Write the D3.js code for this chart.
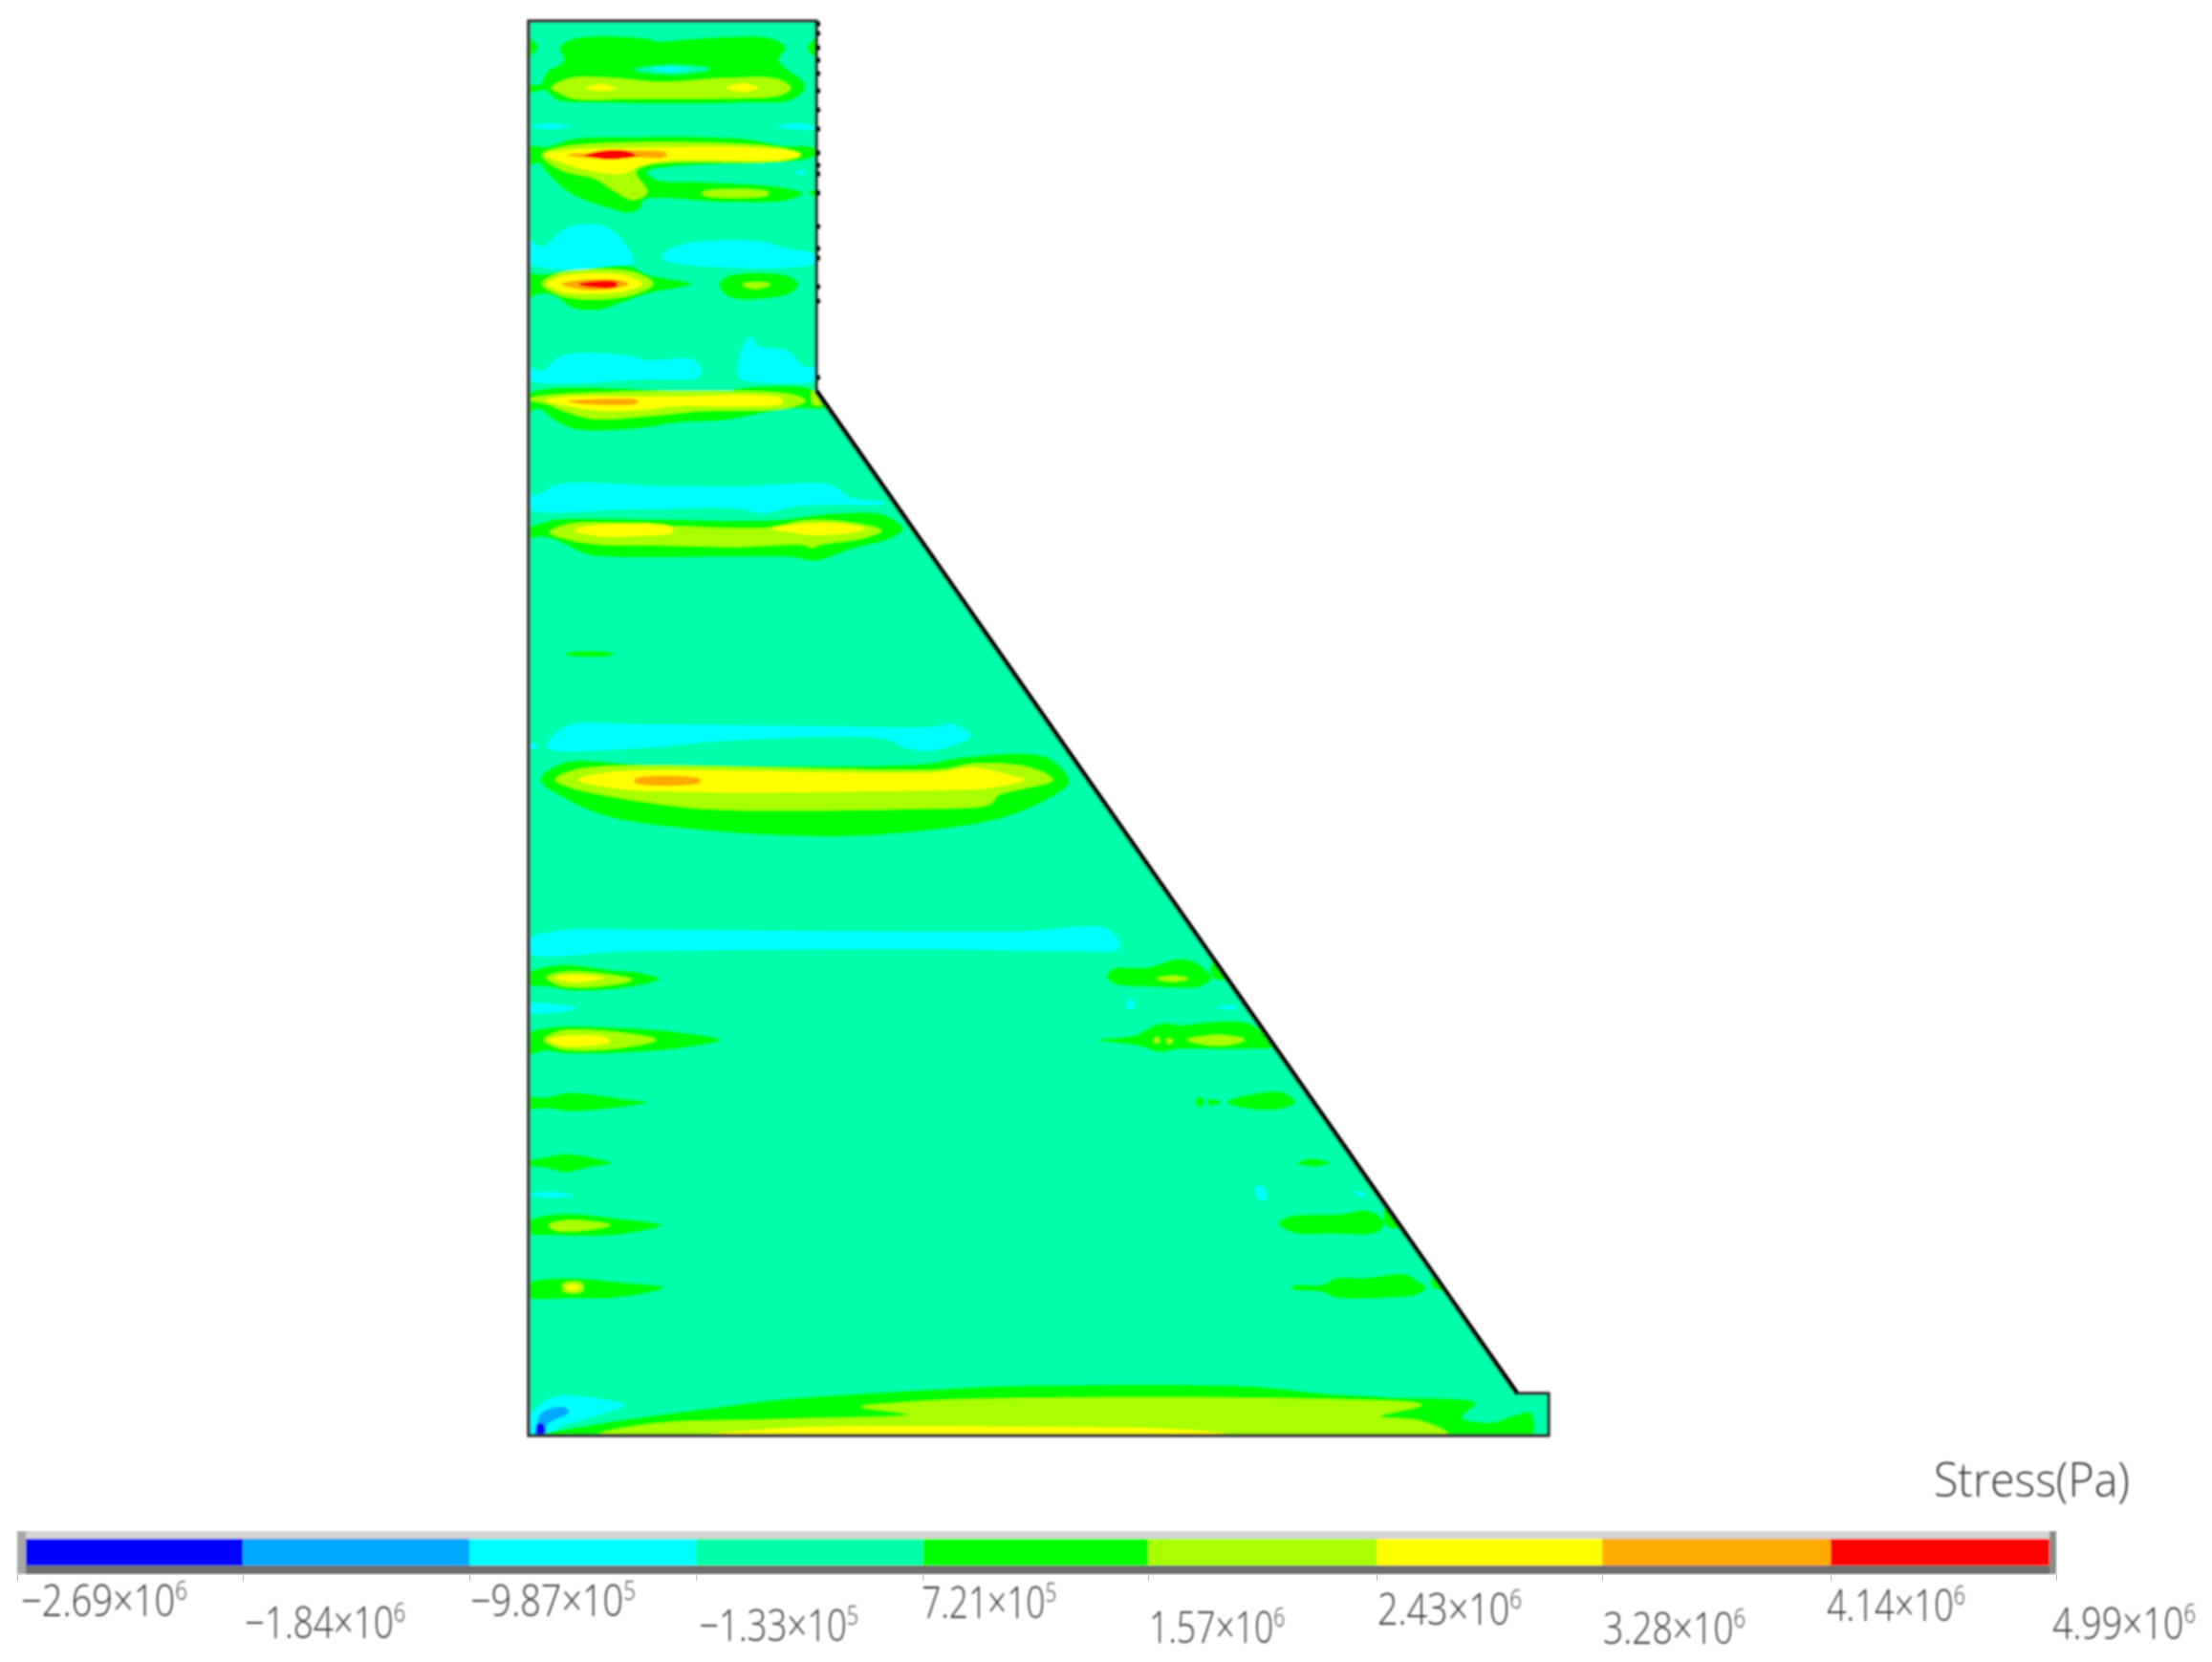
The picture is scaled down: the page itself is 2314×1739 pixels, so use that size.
<!DOCTYPE html>
<html>
<head>
<meta charset="utf-8">
<style>
  html, body { margin: 0; padding: 0; background: #fff; }
  svg { display: block; }
  text { font-family: "Open Sans", "Noto Sans", sans-serif; font-weight: 300; fill: #3c3c3c; }
</style>
<script src="https://cdnjs.cloudflare.com/ajax/libs/d3/7.8.5/d3.min.js"></script>
</head>
<body>
<svg id="chart"></svg>
<script>
// legend
const legendMantissa = ['\u22122.69', '\u22121.84', '\u22129.87', '\u22121.33', '7.21', '1.57', '2.43', '3.28', '4.14', '4.99']
const legendExponent = [6, 6, 5, 5, 5, 6, 6, 6, 6, 6]
const bandColors = ['#0000ff', '#00aaff', '#00ffff', '#00ffaa', '#00ff00', '#aaff00', '#ffff00', '#ffaa00', '#ff0000']
const legendTitle = 'Stress(Pa)'

// dam section, [distance from upstream face, depth below crest]
const damOutline = [[0, 0], [301, 0], [301, 387], [1034, 1436], [1067, 1436], [1067, 1480], [0, 1480]]
const damSlope = [[301, 387], [1034, 1436]]
// restraint marks on the upper downstream wall, depth below crest
const wallMarks = [3, 13, 28, 41, 55, 73, 93, 113, 138, 151, 160, 180, 215, 238, 248, 278, 293, 373]

// contour regions, one list per stress band (band 3 is the dam fill)
const band0 = [
  [[9, 1468], [15, 1468], [16, 1480], [9, 1480]]
]
const band1 = [
  [[9, 1466], [12, 1458], [25, 1451], [39, 1451], [42, 1456], [29, 1463], [20, 1468], [17, 1480], [7, 1480]]
]
const band2 = [
  [[2, 111], [24, 107], [42, 111], [24, 113]],
  [[260, 111], [277, 107], [299, 111], [299, 113], [277, 113]],
  [[279, 159], [284, 156], [290, 159], [284, 161]],
  [[0, 230], [14, 236], [37, 218], [54, 213], [80, 215], [94, 225], [109, 246], [109, 253], [0, 253]],
  [[139, 245], [154, 236], [177, 231], [244, 231], [270, 238], [301, 245], [301, 253], [144, 251]],
  [[0, 363], [14, 366], [35, 350], [104, 350], [124, 355], [174, 355], [180, 371], [120, 375], [0, 375]],
  [[219, 371], [222, 345], [232, 330], [240, 340], [270, 345], [287, 361], [301, 363], [301, 375], [222, 375]],
  [[0, 496], [10, 496], [30, 485], [107, 485], [120, 486], [227, 487], [260, 485], [314, 485], [340, 500], [372, 503], [372, 505], [320, 506], [277, 508], [244, 515], [217, 510], [104, 511], [0, 510]],
  [[19, 760], [40, 738], [120, 736], [300, 738], [430, 738], [440, 735], [463, 748], [424, 763], [396, 761], [372, 751], [206, 753], [127, 760]],
  [[1, 757], [8, 757], [8, 761], [1, 761]],
  [[0, 961], [39, 951], [125, 951], [504, 953], [607, 951], [618, 970], [561, 973], [423, 971], [113, 973], [0, 975]],
  [[0, 1029], [30, 1029], [50, 1033], [30, 1037], [0, 1037]],
  [[626, 1025], [633, 1025], [633, 1033], [626, 1033]],
  [[719, 1032], [739, 1030], [739, 1034]],
  [[0, 1228], [21, 1225], [47, 1229], [21, 1231]],
  [[760, 1220], [769, 1220], [772, 1233], [764, 1233]],
  [[864, 1225], [872, 1225], [875, 1230], [869, 1230]],
  [[0, 1461], [25, 1440], [62, 1440], [100, 1448], [59, 1463], [35, 1470], [19, 1480], [0, 1480]]
]
const band4 = [
  [[0, 18], [10, 27], [0, 38]],
  [[301, 18], [291, 28], [301, 38]],
  [[32, 28], [47, 18], [124, 18], [134, 21], [177, 18], [254, 18], [269, 28], [262, 41], [287, 63], [289, 71], [275, 83], [224, 86], [77, 86], [30, 83], [17, 73], [0, 75], [0, 67], [12, 66], [19, 53], [37, 41]],
  [[0, 132], [20, 131], [47, 123], [110, 121], [227, 123], [264, 130], [299, 133], [299, 141], [284, 146], [147, 153], [124, 158], [134, 166], [177, 168], [260, 173], [287, 180], [270, 188], [210, 190], [120, 188], [117, 196], [104, 201], [84, 196], [44, 181], [20, 160], [10, 149], [0, 151]],
  [[292, 180], [301, 176], [301, 183]],
  [[0, 264], [10, 265], [47, 261], [105, 256], [124, 265], [170, 275], [127, 285], [94, 296], [77, 302], [47, 301], [27, 288], [10, 286], [0, 290]],
  [[199, 275], [210, 266], [270, 266], [282, 275], [274, 285], [217, 291], [204, 285]],
  [[0, 390], [207, 388], [220, 384], [294, 384], [302, 391], [312, 404], [270, 406], [204, 418], [160, 420], [110, 427], [47, 427], [27, 418], [10, 406], [0, 410]],
  [[0, 531], [20, 523], [30, 521], [130, 521], [254, 522], [320, 515], [370, 516], [392, 531], [380, 541], [337, 553], [300, 565], [274, 561], [200, 561], [87, 561], [60, 558], [27, 543], [12, 540], [0, 541]],
  [[37, 663], [44, 660], [84, 660], [89, 663], [84, 665], [44, 665]],
  [[12, 794], [36, 776], [123, 778], [412, 777], [455, 770], [542, 770], [566, 795], [558, 805], [499, 833], [376, 851], [281, 853], [163, 845], [84, 833], [40, 815]],
  [[0, 996], [27, 988], [50, 988], [90, 993], [113, 995], [137, 1002], [113, 1010], [50, 1015], [21, 1011], [0, 1008]],
  [[604, 1000], [612, 991], [647, 990], [680, 981], [700, 986], [714, 1001], [704, 1010], [654, 1011], [614, 1008]],
  [[714, 986], [720, 986], [730, 1003], [715, 1001]],
  [[0, 1060], [21, 1053], [96, 1053], [159, 1058], [201, 1066], [159, 1075], [44, 1081], [16, 1078], [0, 1081]],
  [[595, 1066], [634, 1061], [654, 1051], [667, 1048], [680, 1050], [730, 1046], [757, 1050], [777, 1073], [750, 1076], [680, 1076], [660, 1079], [640, 1073]],
  [[0, 1126], [16, 1126], [44, 1121], [67, 1123], [102, 1128], [125, 1131], [102, 1136], [44, 1141], [19, 1138], [0, 1138]],
  [[697, 1131], [702, 1125], [707, 1131], [702, 1137]],
  [[710, 1128], [725, 1131], [712, 1135]],
  [[730, 1131], [754, 1123], [790, 1121], [802, 1131], [790, 1138], [750, 1138]],
  [[0, 1193], [21, 1188], [39, 1185], [62, 1188], [87, 1195], [62, 1200], [39, 1205], [16, 1200], [0, 1198]],
  [[803, 1195], [820, 1190], [839, 1195], [820, 1199]],
  [[0, 1256], [33, 1248], [96, 1253], [139, 1260], [96, 1270], [33, 1271], [0, 1268]],
  [[784, 1258], [794, 1251], [850, 1248], [874, 1244], [887, 1248], [895, 1258], [887, 1268], [834, 1269], [814, 1270], [794, 1266]],
  [[895, 1243], [912, 1263], [897, 1261]],
  [[0, 1321], [39, 1315], [102, 1320], [142, 1325], [102, 1335], [39, 1337], [0, 1335]],
  [[799, 1323], [830, 1322], [844, 1315], [874, 1315], [917, 1311], [930, 1318], [939, 1325], [929, 1333], [900, 1336], [844, 1336], [830, 1330], [799, 1327]],
  [[944, 1315], [957, 1328], [945, 1325]],
  [[13, 1480], [70, 1468], [191, 1451], [263, 1442], [348, 1436], [434, 1431], [498, 1428], [748, 1428], [834, 1436], [906, 1440], [991, 1446], [977, 1461], [1006, 1466], [1048, 1456], [1052, 1476], [1050, 1480]]
]
const band5 = [
  [[24, 70], [44, 60], [90, 60], [140, 64], [204, 60], [260, 61], [274, 70], [264, 77], [184, 81], [110, 81], [47, 81], [34, 76]],
  [[14, 140], [40, 131], [260, 132], [285, 140], [270, 146], [147, 148], [124, 151], [112, 158], [124, 179], [109, 187], [90, 178], [70, 165], [34, 156]],
  [[182, 179], [250, 179], [250, 182], [182, 182]],
  [[14, 275], [34, 263], [110, 263], [130, 275], [110, 286], [77, 291], [47, 290], [30, 286]],
  [[224, 275], [250, 274], [252, 276], [237, 280], [225, 277]],
  [[0, 396], [17, 392], [270, 390], [289, 397], [270, 405], [180, 408], [127, 413], [67, 416], [37, 408], [20, 401]],
  [[297, 386], [307, 401], [297, 401]],
  [[22, 535], [44, 526], [154, 529], [254, 530], [287, 523], [330, 524], [369, 533], [350, 541], [304, 548], [297, 551], [287, 548], [220, 550], [114, 548], [80, 548], [44, 543]],
  [[28, 794], [52, 783], [432, 783], [467, 777], [523, 781], [548, 794], [491, 810], [483, 819], [404, 824], [202, 825], [151, 821], [48, 803]],
  [[19, 1001], [36, 995], [85, 998], [108, 1003], [73, 1010], [33, 1009]],
  [[657, 1002], [674, 999], [690, 1002], [674, 1005]],
  [[16, 1066], [33, 1057], [79, 1057], [133, 1066], [90, 1075], [33, 1075]],
  [[689, 1066], [724, 1061], [749, 1066], [734, 1071], [707, 1071]],
  [[654, 1066], [658, 1063], [660, 1068], [655, 1069]],
  [[667, 1065], [674, 1066], [670, 1071]],
  [[21, 1260], [39, 1255], [85, 1260], [50, 1266], [27, 1265]],
  [[36, 1321], [56, 1321], [56, 1329], [36, 1329]],
  [[70, 1480], [127, 1468], [263, 1463], [398, 1458], [348, 1450], [384, 1446], [463, 1442], [834, 1442], [934, 1448], [891, 1460], [934, 1465], [963, 1480]]
]
const band6 = [
  [[60, 70], [75, 66], [92, 71], [75, 73]],
  [[207, 70], [224, 65], [240, 70], [224, 74]],
  [[17, 140], [40, 135], [94, 133], [260, 134], [284, 140], [264, 145], [147, 146], [117, 151], [97, 160], [57, 155], [34, 148]],
  [[19, 275], [40, 266], [100, 266], [119, 275], [100, 283], [50, 285], [34, 283]],
  [[17, 397], [40, 393], [160, 393], [220, 391], [264, 395], [265, 400], [220, 403], [154, 403], [120, 407], [77, 408], [40, 403]],
  [[47, 533], [74, 527], [150, 530], [150, 535], [110, 539], [74, 539]],
  [[254, 531], [287, 526], [327, 526], [352, 531], [334, 536], [297, 538], [280, 536]],
  [[52, 794], [84, 786], [428, 786], [463, 781], [507, 790], [519, 794], [479, 803], [463, 804], [100, 804]],
  [[27, 1001], [44, 998], [79, 1001], [44, 1006]],
  [[21, 1066], [39, 1062], [79, 1063], [85, 1068], [67, 1072], [33, 1072]],
  [[40, 1323], [52, 1323], [52, 1327], [40, 1327]],
  [[173, 1480], [227, 1475], [298, 1471], [548, 1471], [691, 1474], [741, 1480]]
]
const band7 = [
  [[40, 140], [60, 138], [144, 138], [144, 142], [110, 143], [57, 143]],
  [[34, 275], [54, 271], [94, 271], [105, 275], [90, 280], [54, 281]],
  [[40, 398], [60, 396], [114, 397], [114, 400], [60, 401]],
  [[111, 793], [179, 793], [179, 797], [111, 797]]
]
const band8 = [
  [[59, 141], [74, 136], [104, 136], [112, 141], [84, 145], [67, 143]],
  [[52, 275], [60, 273], [92, 273], [92, 278], [60, 278]]
]
// the low patch inside the top green region
const innerBand3 = [
  [[110, 51], [147, 46], [190, 50], [164, 55], [134, 55]]
]
const innerBand2 = [
  [[128, 50], [147, 48], [170, 50], [147, 53]]
]

const width = 2314
const height = 1739
const margin = ({top: 22, left: 553})

const svg = d3.select('#chart')
  .attr('width', width)
  .attr('height', height)

const defs = svg.append('defs')
defs.append('filter').attr('id', 'soft')
  .attr('x', '-2%').attr('y', '-2%').attr('width', '104%').attr('height', '104%')
  .append('feGaussianBlur').attr('stdDeviation', 0.9)

// x-range, depth-range
const x = d3.scaleLinear().domain([0, 1067]).range([margin.left, margin.left + 1067])
const y = d3.scaleLinear().domain([0, 1480]).range([margin.top, margin.top + 1480])

const outline = d3.line()
  .x(d => x(d[0]))
  .y(d => y(d[1]))
  .curve(d3.curveLinearClosed)

// contours read softer than the straight dam edges
const contour = d3.line()
  .x(d => x(d[0]))
  .y(d => y(d[1]))
  .curve(d3.curveCatmullRomClosed.alpha(0.5))

defs.append('clipPath').attr('id', 'dam-clip')
  .append('path').attr('d', outline(damOutline))

const field = svg.append('g').attr('filter', 'url(#soft)')
const clipped = field.append('g').attr('clip-path', 'url(#dam-clip)')

clipped.append('path')
  .attr('d', outline(damOutline))
  .attr('fill', bandColors[3])

// lows are painted outward to inward, highs the other way up
const paintOrder = [
  [band2, 2], [band1, 1], [band0, 0],
  [band4, 4], [band5, 5], [band6, 6], [band7, 7], [band8, 8],
  [innerBand3, 3], [innerBand2, 2]
]
paintOrder.forEach(([regions, level]) => {
  clipped.append('g')
    .selectAll('path')
    .data(regions)
    .join('path')
    .attr('d', contour)
    .attr('fill', bandColors[level])
})

// dam edge
field.append('path')
  .attr('d', outline(damOutline))
  .attr('fill', 'none')
  .attr('stroke', '#333')
  .attr('stroke-width', 3.5)
  .attr('stroke-linejoin', 'miter')

field.append('path')
  .attr('d', d3.line().x(d => x(d[0])).y(d => y(d[1]))(damSlope))
  .attr('fill', 'none')
  .attr('stroke', '#000')
  .attr('stroke-width', 5)

field.append('g')
  .selectAll('rect')
  .data(wallMarks)
  .join('rect')
  .attr('x', x(301) - 1)
  .attr('y', d => y(d) - 2.5)
  .attr('width', 5)
  .attr('height', 5)
  .attr('fill', '#111')

// legend
const legendValues = legendMantissa.map((m, i) => +m.replace('\u2212', '-') * Math.pow(10, legendExponent[i]))
const legendX = d3.scaleLinear()
  .domain([legendValues[0], legendValues[legendValues.length - 1]])
  .range([18, 2151])

const barTop = 1610
const barBottom = 1638
const legend = svg.append('g').attr('filter', 'url(#soft)')

legend.selectAll('rect.band')
  .data(bandColors)
  .join('rect')
  .attr('class', 'band')
  .attr('x', (d, i) => legendX(legendValues[i]))
  .attr('y', barTop)
  .attr('width', (d, i) => legendX(legendValues[i + 1]) - legendX(legendValues[i]))
  .attr('height', barBottom - barTop)
  .attr('fill', d => d)

// bevel around the bar
legend.append('rect').attr('x', 18).attr('y', 1602).attr('width', 2133).attr('height', 8).attr('fill', '#d3d3cf')
legend.append('rect').attr('x', 18).attr('y', barBottom).attr('width', 2133).attr('height', 9).attr('fill', '#6e6e6e')
legend.append('rect').attr('x', 18).attr('y', 1602).attr('width', 9).attr('height', 45).attr('fill', '#a8a8a8')
legend.append('rect').attr('x', 2144).attr('y', 1602).attr('width', 7).attr('height', 45).attr('fill', '#8c8c8c')

const ticks = svg.append('g')
  .attr('transform', 'translate(0, 1647)')
  .call(d3.axisBottom(legendX).tickValues(legendValues).tickSize(7).tickFormat(''))
ticks.select('.domain').remove()
ticks.selectAll('line').attr('stroke', '#bdbdbd')

// the labels sit on two staggered rows and do not quite line up with their ticks
const labelNudge = [4, 2, 1, 3, -1, 1, 1, 1, -4, -4]
const labelBaseline = [1691, 1714, 1691, 1717, 1693, 1719, 1700, 1720, 1696, 1715]
const labelWidth = [174, 168, 173, 167, 141, 142, 151, 149, 145, 150]

const fitWidth = (sel, left, baseline, target) => {
  const w = sel.node().getComputedTextLength()
  sel.attr('transform', `translate(${left}, ${baseline}) scale(${target / w}, 1)`)
}

const labels = svg.append('g').attr('filter', 'url(#soft)')
legendMantissa.forEach((m, i) => {
  const t = labels.append('text').attr('font-size', 46)
  t.append('tspan').text(m + '\u00d710')
  t.append('tspan').attr('font-size', 27).attr('dy', -17).text(legendExponent[i])
  fitWidth(t, legendX(legendValues[i]) + labelNudge[i], labelBaseline[i], labelWidth[i])
})

const title = labels.append('text').attr('font-size', 50).text(legendTitle)
fitWidth(title, 2023, 1566, 205)
</script>
</body>
</html>
